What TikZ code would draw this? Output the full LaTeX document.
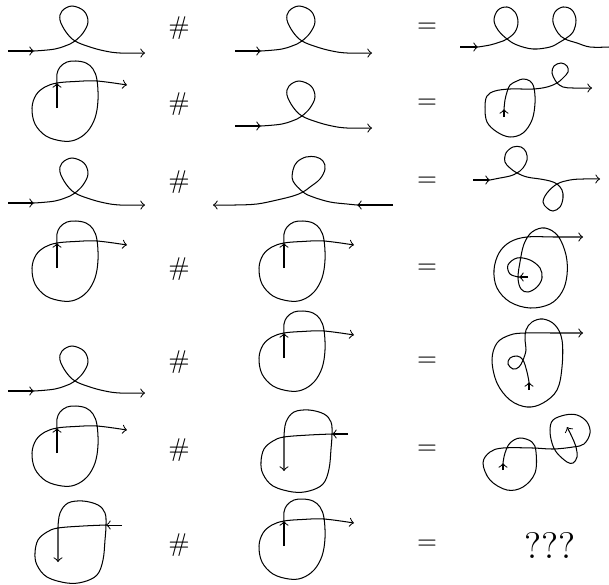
\documentclass[tikz,border=0pt]{standalone}
\usetikzlibrary{arrows}
\tikzset{
  line/.style={line width=0.4pt},
  sym/.style={inner sep=0pt},
  % loop with one crossing, left to right
  loopA/.pic={
    \draw[line,->] (8,51) -- (34,51);
    \draw[line,->] plot[smooth,tension=0.6] coordinates {(34,51) (55,49) (70,44) (75,41) (83,33) (88,22) (84,11) (72,6) (62,11) (60,20) (66,32) (75,41) (90,47) (105,51) (120,53) (145,53)};
  },
  % curl, start at the bottom of the vertical stem
  curl/.pic={
    \draw[line,->] (57,108) -- (57,83);
    \draw[line,->] plot[smooth,tension=0.6] coordinates {(57,83) (57,74) (60,67) (67,62) (76,61) (86,63) (93,69) (97,80) (98,100) (95,118) (87,132) (75,140) (62,141) (46,136) (35,124) (32,108) (36,95) (45,87) (57,83) (75,81.5) (97,81) (127,85)};
  },
  % curl run backwards
  revcurl/.pic={
    \draw[line,->] (122,525) -- (106,525);
    \draw[line,->] plot[smooth,tension=0.6] coordinates {(106,525) (83,526) (58,528) (47,532) (38,540) (35,553) (37,565) (47,577) (67,583) (83,582) (97,575) (103,560) (105,540) (106,525) (105,513) (98,505) (83,501) (68,503) (60,513) (58,527)} -- (58,562);
  },
}
\begin{document}
\begin{tikzpicture}[x=0.39pt,y=-0.39pt]
\useasboundingbox (0,0) rectangle (609,584);

%symbols
\foreach \yy [count=\i] in {28,104,182,269,362,450,545}{
  \node[sym] (hash\i) at (179,\yy) {$\#$};
  \node[sym] (eq\i) at (427,\yy) {$=$};
}
\node[sym,font=\Large] (qq) at (550,545) {???};

%left column
\pic at (0,0) {loopA};
\pic at (0,0) {curl};
\pic at (0,152) {loopA};
\pic at (0,160) {curl};
\pic at (0,340) {loopA};
\pic at (0,345) {curl};
\pic at (0,0) {revcurl};

%middle column
\pic at (227,0) {loopA};
\pic at (227,75) {loopA};
\pic at (227,160) {curl};
\pic at (227,250) {curl};
\pic at (226,-91) {revcurl};
\pic at (227,438) {curl};

%mirrored loop
\draw[line,->] (393,205) -- (357,205);
\draw[line,->] plot[smooth,tension=0.6] coordinates {(357,205) (347,204) (330,202) (313,197) (303,192) (293,181) (293,170) (297,162) (306,157) (316,157) (323,161) (325,169) (320,179) (310,187) (303,192) (293,196) (277,200) (257,204) (235,205) (213,205)};

%right column
% row 1: two loops
\draw[line,->] (460,47) -- (478,47);
\draw[line] plot[smooth,tension=0.6] coordinates {(478,47) (490,45) (500,42) (507,39) (515,32) (518,22) (515,12) (507,7) (498,10) (494,20) (498,30) (507,39) (517,45) (533,49) (550,47) (560,42) (565,39) (573,32) (576,20) (572,10) (563,7) (555,12) (553,22) (558,33) (565,39) (577,43) (590,47) (609,47)};
% row 2: curl then loop
\draw[line,->] (504,117) -- (504,109);
\draw[line,->] plot[smooth,tension=0.6] coordinates {(504,109) (505,100) (507,92) (510,85) (517,81) (523,79) (530,81) (534,88) (535,103) (532,120) (523,133) (510,137) (497,132) (487,122) (485,107) (487,96) (495,91) (510,89) (533,89) (547,87) (557,83) (563,78) (568,72) (567,66) (561,63) (554,66) (552,73) (555,80) (557,83) (563,87) (573,88) (592,88)};
% row 3: loop up, loop down
\draw[line,->] (473,180) -- (490,180);
\draw[line,->] plot[smooth,tension=0.6] coordinates {(490,180) (500,178) (510,176) (517,173) (523,168) (527,160) (526,152) (521,147) (513,147) (506,153) (505,162) (510,168) (517,173) (527,177) (540,179) (550,181) (557,184) (562,190) (563,198) (560,207) (553,211) (547,208) (543,202) (547,193) (557,184) (570,180) (583,179) (600,179)};
% row 4: spiral
\draw[line,->] (528,277) -- (519,277);
\draw[line,->] plot[smooth,tension=0.6] coordinates {(519,277) (510,274) (508,265) (517,258) (530,260) (540,268) (542,278) (537,287) (528,292) (521,289) (518,278) (520,262) (524,244) (532,232) (545,228) (558,236) (566,255) (567,275) (562,292) (550,304) (530,308) (510,302) (497,288) (494,270) (499,253) (510,242) (527,237) (555,237) (583,237)};
% row 5
\draw[line,->] (529,390) -- (529,382);
\draw[line,->] plot[smooth,tension=0.6] coordinates {(529,382) (527,372) (523,360) (517,356) (510,358) (508,364) (513,369) (519,367) (523,360) (526,350) (525,340) (526,330) (532,322) (543,319) (555,325) (562,340) (562,367) (557,390) (543,403) (527,407) (510,400) (497,383) (492,360) (497,343) (510,335) (525,333) (555,333) (583,333)};
% row 6
\draw[line,->] (503,470) -- (503,463);
\draw[line,->] plot[smooth,tension=0.6] coordinates {(503,463) (505,453) (510,443) (520,438) (532,442) (536,452) (535,473) (523,487) (507,490) (490,480) (483,463) (490,452) (503,448) (533,448) (553,449) (573,447) (584,444) (590,433) (587,422) (577,415) (565,415) (553,420) (550,430) (552,443) (557,453) (567,462) (573,463) (577,457) (576,447) (572,437) (567,427)};
\end{tikzpicture}
\end{document}
